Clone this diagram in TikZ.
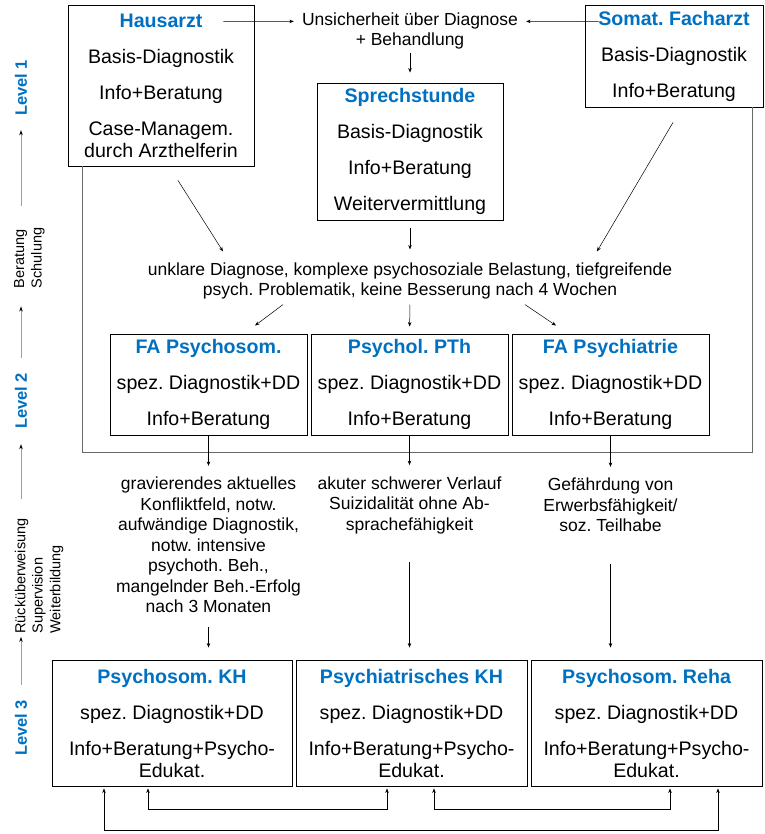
\documentclass[tikz,border=0pt]{standalone}
\usepackage{fontspec}
\setmainfont{Liberation Sans}
\usepackage{xcolor}
\usepackage{tikz}
\usetikzlibrary{positioning,calc,arrows.meta}
\definecolor{levelblue}{RGB}{0,112,192}
\definecolor{framegray}{RGB}{105,105,105}
\newcommand{\boxtitle}[1]{{\bfseries\color{levelblue}#1}}
\frenchspacing

\begin{document}
\begin{tikzpicture}[
    x=1pt, y=-1pt,
    box/.style={rectangle, draw=black, line width=0.9pt, fill=white, align=center, inner sep=0pt, font=\fontsize{19.6}{22}\selectfont},
    note/.style={align=center, inner sep=3pt, font=\fontsize{17.5}{20.5}\selectfont},
    level/.style={rotate=90, inner sep=3pt, text=levelblue, font=\fontsize{16.5}{19}\selectfont\bfseries},
    side/.style={rotate=90, align=left, inner sep=3pt, font=\fontsize{14.5}{17.5}\selectfont},
    arr/.style={-{Stealth[length=4.5pt,width=3.5pt]}, line width=0.5pt},
    twoarr/.style={{Stealth[length=4.5pt,width=3.5pt]}-{Stealth[length=4.5pt,width=3.5pt]}, line width=0.5pt, shorten <=2pt, shorten >=2pt},
    levarr/.style={draw=gray!75, line width=1pt, -{Stealth[length=5pt,width=3.5pt,black]}},
    outline/.style={draw=framegray, line width=1.5pt}
]
    \useasboundingbox (0,0) rectangle (764,834);

    % level 1
    \node[box, minimum width=186pt, minimum height=161pt] (hausarzt) at (161,85.5) {\boxtitle{Hausarzt}\\[14pt] Basis-Diagnostik\\[14pt] Info+Beratung\\[14pt] Case-Managem.\\ durch Arzthelferin};
    \node[box, minimum width=178pt, minimum height=102pt] (somat) at (674,56) {\boxtitle{Somat. Facharzt}\\[14pt] Basis-Diagnostik\\[14pt] Info+Beratung};
    \node[note, inner xsep=8pt] (unsicher) at (410,31) {Unsicherheit über Diagnose\\+ Behandlung};
    \node[box, minimum width=186pt, minimum height=137pt] (sprech) at (410,151.5) {\boxtitle{Sprechstunde}\\[14pt] Basis-Diagnostik\\[14pt] Info+Beratung\\[14pt] Weitervermittlung};
    \node[note] (unklar) at (410,281) {unklare Diagnose, komplexe psychosoziale Belastung, tiefgreifende\\psych. Problematik, keine Besserung nach 4 Wochen};

    \draw[outline] ($(hausarzt.south west)+(15,0)$) -- ++(0,286) -| ($(somat.south east)+(-11,0)$);

    % level 2
    \node[box, minimum width=197pt, minimum height=101pt] (fapsysom) at (208.5,384.5) {\boxtitle{FA Psychosom.}\\[14pt] spez. Diagnostik+DD\\[14pt] Info+Beratung};
    \node[box, minimum width=197pt, minimum height=101pt] (psychol) at (409.5,384.5) {\boxtitle{Psychol. PTh}\\[14pt] spez. Diagnostik+DD\\[14pt] Info+Beratung};
    \node[box, minimum width=197pt, minimum height=101pt] (fapsych) at (610.5,384.5) {\boxtitle{FA Psychiatrie}\\[14pt] spez. Diagnostik+DD\\[14pt] Info+Beratung};

    \node[note] (anm1) at (208.5,545) {gravierendes aktuelles\\Konfliktfeld, notw.\\aufwändige Diagnostik,\\notw. intensive\\psychoth. Beh.,\\mangelnder Beh.-Erfolg\\nach 3 Monaten};
    \node[note] (anm2) at (409.5,505) {akuter schwerer Verlauf\\Suizidalität ohne Ab-\\sprachefähigkeit};
    \node[note] (anm3) at (610.5,505) {Gefährdung von\\Erwerbsfähigkeit/\\soz. Teilhabe};

    % level 3
    \node[box, minimum width=240pt, minimum height=126pt] (psykh) at (172,723) {\boxtitle{Psychosom. KH}\\[14pt] spez. Diagnostik+DD\\[14pt] Info+Beratung+Psycho-\\Edukat.};
    \node[box, minimum width=231pt, minimum height=126pt] (psychkh) at (411.5,723) {\boxtitle{Psychiatrisches KH}\\[14pt] spez. Diagnostik+DD\\[14pt] Info+Beratung+Psycho-\\Edukat.};
    \node[box, minimum width=231pt, minimum height=126pt] (reha) at (646.5,723) {\boxtitle{Psychosom. Reha}\\[14pt] spez. Diagnostik+DD\\[14pt] Info+Beratung+Psycho-\\Edukat.};

    % left side
    \node[level] (lvl1) at (21,88) {Level 1};
    \node[side] (schulung) at (29.5,258) {Beratung\\Schulung};
    \node[level] (lvl2) at (21,401) {Level 2};
    \node[side] (rueck) at (39,576) {Rücküberweisung\\Supervision\\Weiterbildung};
    \node[level] (lvl3) at (21,728) {Level 3};

    \draw[levarr, shorten <=19pt, shorten >=11pt] (lvl1 |- schulung.east) -- (lvl1.west);
    \draw[levarr, shorten <=12pt, shorten >=15pt] (lvl2.east) -- (lvl2 |- schulung.west);
    \draw[levarr, shorten <=16pt, shorten >=12pt] (lvl2 |- rueck.east) -- (lvl2.west);
    \draw[levarr, shorten <=12pt] (lvl3.east) -- (lvl3 |- rueck.west);

    % connectors
    \draw[arr] ($(hausarzt.north east)+(-31,17)$) -- ($(unsicher.north west)+(0,12)$);
    \draw[arr] ($(somat.north west)+(14,17)$) -- ($(unsicher.north east)+(0,12)$);
    \draw[arr, shorten >=10pt] (unsicher.south) -- (sprech.north);
    \draw[arr] ($(hausarzt.south)+(17,14)$) -- ($(unklar.north)+(-187,-8)$);
    \draw[arr] ($(somat.south)+(-1,15)$) -- ($(unklar.north)+(187,-8)$);
    \draw[arr, shorten <=8pt, shorten >=10pt] (sprech.south) -- (unklar.north);
    \draw[arr] ($(unklar.south)+(-127,2)$) -- ($(fapsysom.north)+(46.5,-8)$);
    \draw[arr, shorten <=2pt, shorten >=7pt] (unklar.south) -- (psychol.north);
    \draw[arr] ($(unklar.south)+(115,2)$) -- ($(fapsych.north)+(-54.5,-8)$);

    \draw[arr, shorten >=8pt] (fapsysom.south) -- (anm1.north);
    \draw[arr, shorten >=8pt] (psychol.south) -- (anm2.north);
    \draw[arr, shorten >=8pt] (fapsych.south) -- (anm3.north);
    \draw[arr, shorten <=11pt, shorten >=12pt] (anm1.south) -- (anm1.south |- psykh.north);
    \draw[arr, shorten <=25pt, shorten >=12pt] (anm2.south) -- (anm2.south |- psychkh.north);
    \draw[arr, shorten <=29pt, shorten >=12pt] (anm3.south) -- (anm3.south |- reha.north);

    \draw[twoarr] ([xshift=-24pt]psykh.south) -- ++(0,23) -| ([xshift=-24.5pt]psychkh.south);
    \draw[twoarr] ([xshift=22.5pt]psychkh.south) -- ++(0,23) -| ([xshift=23.5pt]reha.south);
    \draw[twoarr] ([xshift=-68pt]psykh.south) -- ++(0,44) -| ([xshift=71.5pt]reha.south);
\end{tikzpicture}
\end{document}
